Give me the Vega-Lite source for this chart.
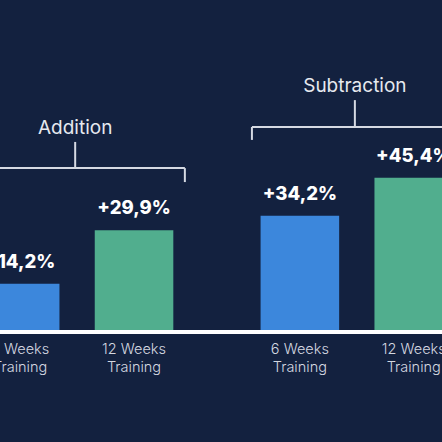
{
  "$schema": "https://vega.github.io/schema/vega-lite/v6.json",
  "width": 559.4,
  "height": 306,
  "autosize": {"type": "none"},
  "padding": {"left": -62.75, "right": -54.65, "top": 26, "bottom": 110},
  "background": "#13213f",
  "config": {
    "view": {"stroke": null},
    "font": "Inter",
    "text": {"font": "Inter"}
  },
  "datasets": {
    "bars": [
      {"group": "Addition", "training": "6 Weeks", "value": 14.2, "label": "+14,2%", "cat": "6 Weeks\nTraining"},
      {"group": "Addition", "training": "12 Weeks", "value": 29.9, "label": "+29,9%", "cat": "12 Weeks\nTraining"},
      {"group": "Subtraction", "training": "6 Weeks", "value": 34.2, "label": "+34,2%", "cat": "6 Weeks\nTraining"},
      {"group": "Subtraction", "training": "12 Weeks", "value": 45.4, "label": "+45,4%", "cat": "12 Weeks\nTraining"}
    ],
    "brackets": [
      {"group": "Addition", "level": 48.2, "tick": 44.1, "stem": 55.9, "ly": 58.2},
      {"group": "Subtraction", "level": 60.3, "tick": 56.5, "stem": 68.2, "ly": 70.6}
    ]
  },
  "layer": [
    {
      "data": {"name": "bars"},
      "mark": {"type": "bar"},
      "encoding": {
        "x": {"field": "group", "type": "nominal", "axis": null, "scale": {"paddingInner": 0.312, "paddingOuter": 0.156}},
        "xOffset": {"field": "training", "type": "nominal", "sort": ["6 Weeks", "12 Weeks"], "scale": {"paddingInner": 0.31, "paddingOuter": 0}},
        "y": {"field": "value", "type": "quantitative", "axis": null, "scale": {"domain": [0, 90], "nice": false}},
        "color": {"field": "training", "type": "nominal", "legend": null, "scale": {"domain": ["6 Weeks", "12 Weeks"], "range": ["#3c87dc", "#51ae8e"]}}
      }
    },
    {
      "data": {"name": "bars"},
      "mark": {"type": "text", "fontWeight": 800, "fontSize": 18.5, "color": "#ffffff", "baseline": "alphabetic", "dy": -16},
      "encoding": {
        "x": {"field": "group", "type": "nominal", "axis": null},
        "xOffset": {"field": "training", "type": "nominal", "sort": ["6 Weeks", "12 Weeks"]},
        "y": {"field": "value", "type": "quantitative", "axis": null},
        "text": {"field": "label", "type": "nominal"}
      }
    },
    {
      "data": {"name": "bars"},
      "mark": {"type": "text", "fontWeight": 300, "fontSize": 14.5, "color": "#d3d7e0", "baseline": "top", "dy": 11, "lineBreak": "\n", "lineHeight": 17.6},
      "encoding": {
        "x": {"field": "group", "type": "nominal", "axis": null},
        "xOffset": {"field": "training", "type": "nominal", "sort": ["6 Weeks", "12 Weeks"]},
        "y": {"datum": 0, "type": "quantitative", "axis": null},
        "text": {"field": "cat", "type": "nominal"}
      }
    },
    {
      "data": {"name": "bars"},
      "mark": {"type": "rule", "color": "#ffffff", "strokeWidth": 4},
      "encoding": {
        "y": {"datum": 0, "type": "quantitative", "axis": null}
      }
    },
    {
      "data": {"name": "brackets"},
      "mark": {"type": "rule", "color": "#d5d9e2", "strokeWidth": 2},
      "encoding": {
        "x": {"field": "group", "type": "nominal", "axis": null, "bandPosition": -0.045},
        "x2": {"field": "group", "bandPosition": 1.06},
        "y": {"field": "level", "type": "quantitative", "axis": null}
      }
    },
    {
      "data": {"name": "brackets"},
      "mark": {"type": "rule", "color": "#d5d9e2", "strokeWidth": 2},
      "encoding": {
        "x": {"field": "group", "type": "nominal", "axis": null, "bandPosition": -0.045},
        "y": {"field": "level", "type": "quantitative", "axis": null},
        "y2": {"field": "tick"}
      }
    },
    {
      "data": {"name": "brackets"},
      "mark": {"type": "rule", "color": "#d5d9e2", "strokeWidth": 2},
      "encoding": {
        "x": {"field": "group", "type": "nominal", "axis": null, "bandPosition": 1.06},
        "y": {"field": "level", "type": "quantitative", "axis": null},
        "y2": {"field": "tick"}
      }
    },
    {
      "data": {"name": "brackets"},
      "mark": {"type": "rule", "color": "#d5d9e2", "strokeWidth": 2},
      "encoding": {
        "x": {"field": "group", "type": "nominal", "axis": null, "bandPosition": 0.49},
        "y": {"field": "level", "type": "quantitative", "axis": null},
        "y2": {"field": "stem"}
      }
    },
    {
      "data": {"name": "brackets"},
      "mark": {"type": "text", "fontWeight": 400, "fontSize": 19, "color": "#e6e9ef", "baseline": "alphabetic"},
      "encoding": {
        "x": {"field": "group", "type": "nominal", "axis": null, "bandPosition": 0.49},
        "y": {"field": "ly", "type": "quantitative", "axis": null},
        "text": {"field": "group", "type": "nominal"}
      }
    }
  ]
}
